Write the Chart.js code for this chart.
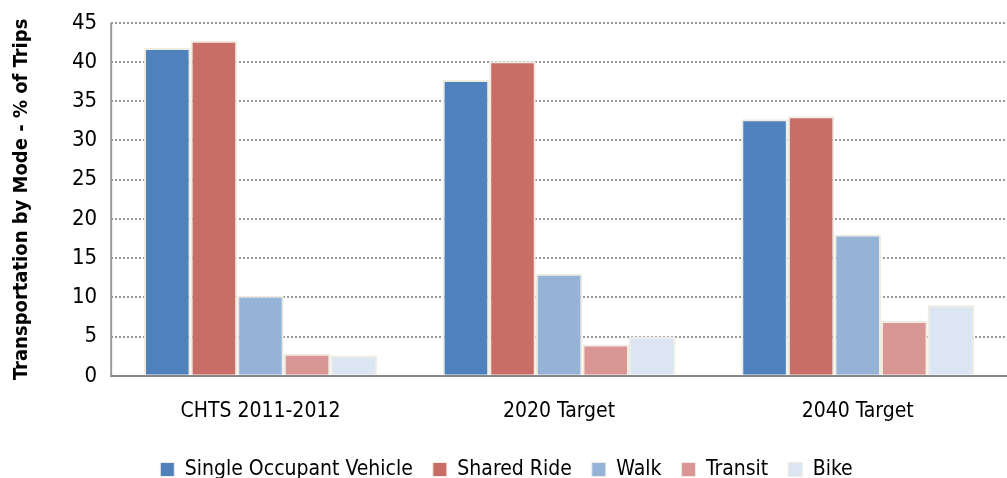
<!DOCTYPE html>
<html>
<head>
<meta charset="utf-8">
<script src="https://cdn.jsdelivr.net/npm/chart.js@4.4.1/dist/chart.umd.min.js"></script>
<style>
  html, body { margin: 0; padding: 0; background: #fff; overflow: hidden; }
  #wrap { width: 1007px; height: 478px; }
</style>
</head>
<body>
<div id="wrap"><canvas id="modeChart"></canvas></div>
<script>
const categories = ["CHTS 2011-2012", "2020 Target", "2040 Target"];
const seriesNames = ["Single Occupant Vehicle", "Shared Ride", "Walk", "Transit", "Bike"];
const sovShare = [41.8, 37.7, 32.7];
const sharedShare = [42.7, 40.1, 33.1];
const walkShare = [10.2, 13, 18];
const transitShare = [2.8, 4, 7];
const bikeShare = [2.6, 5, 9];
const yTicks = [0, 5, 10, 15, 20, 25, 30, 35, 40, 45];

const colors = ["#4f81bd", "#c86e66", "#95b3d7", "#d99694", "#dce6f2"];
const values = [sovShare, sharedShare, walkShare, transitShare, bikeShare];
const font = "'DejaVu Sans Condensed', 'Liberation Sans Narrow', sans-serif";

// solid left axis line (the y border itself carries the dotted dash used by the grid)
const leftAxisLine = {
    id: "leftAxisLine",
    afterDatasetsDraw: chart => {
        const { ctx, chartArea } = chart;
        ctx.save();
        ctx.strokeStyle = "#999";
        ctx.lineWidth = 2;
        ctx.setLineDash([]);
        ctx.beginPath();
        ctx.moveTo(chartArea.left, chartArea.top);
        ctx.lineTo(chartArea.left, chartArea.bottom);
        ctx.stroke();
        ctx.restore();
    }
};

new Chart(document.getElementById("modeChart"), {
    type: "bar",
    data: {
        labels: categories,
        datasets: seriesNames.map((name, i) => ({
            label: name,
            data: values[i],
            backgroundColor: colors[i],
            borderColor: "#eeece1",
            borderWidth: 2,
            barPercentage: 1,
            categoryPercentage: 0.78
        }))
    },
    options: {
        responsive: true,
        maintainAspectRatio: false,
        animation: false,
        layout: { padding: { left: 6, right: 0, top: 0, bottom: -12 } },
        plugins: {
            tooltip: { enabled: false },
            legend: {
                position: "bottom",
                labels: {
                    font: { family: font, size: 21 },
                    color: "#000",
                    boxWidth: 14,
                    boxHeight: 14,
                    padding: 20,
                    generateLabels: chart => chart.data.datasets.map((ds, i) => ({
                        text: ds.label,
                        fillStyle: ds.backgroundColor,
                        strokeStyle: "#eeece1",
                        lineWidth: 1,
                        datasetIndex: i
                    }))
                }
            }
        },
        scales: {
            x: {
                grid: { display: false },
                border: { color: "#888", width: 2 },
                ticks: { font: { family: font, size: 21 }, color: "#000", padding: 15 }
            },
            y: {
                min: 0,
                max: 45,
                afterBuildTicks: axis => { axis.ticks = yTicks.map(v => ({ value: v })); },
                grid: {
                    color: "#999",
                    lineWidth: 2,
                    drawTicks: false
                },
                border: { display: false, dash: [2, 2] },
                ticks: { font: { family: font, size: 22, lineHeight: 0.8 }, color: "#000", padding: 14 },
                title: {
                    display: true,
                    text: "Transportation by Mode - % of Trips",
                    font: { family: font, size: 20, weight: "bold" },
                    color: "#000",
                    padding: { bottom: 24 }
                }
            }
        }
    },
    plugins: [leftAxisLine]
});
</script>
</body>
</html>
